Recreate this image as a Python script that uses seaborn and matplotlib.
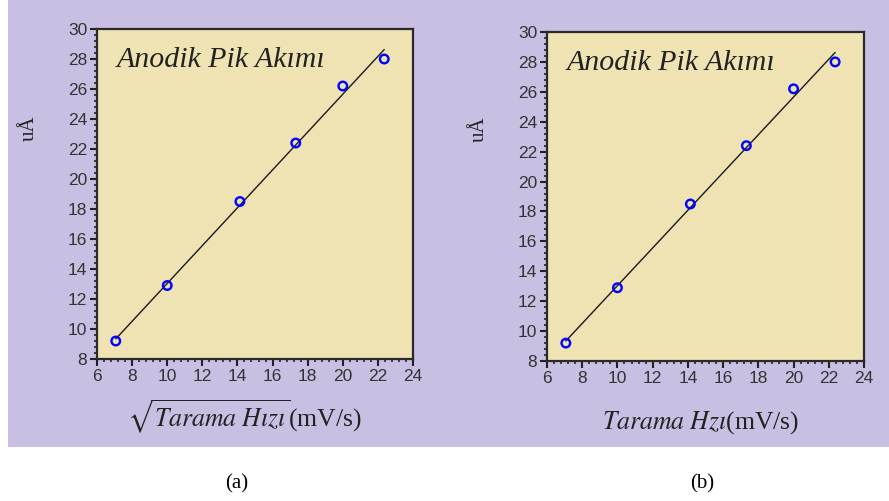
import numpy as np
import pandas as pd
import seaborn as sns
import matplotlib.pyplot as plt
from matplotlib.patches import Rectangle
from matplotlib.ticker import MultipleLocator, AutoMinorLocator

# Dados
tarama_hizi = [7.07, 10.0, 14.14, 17.32, 20.0, 22.36]
akim = [9.2, 12.9, 18.5, 22.4, 26.2, 28.0]
x_etiketleri = [r"$\sqrt{\mathit{Tarama\ Hızı}}$(mV/s)", r"$\mathit{Tarama\ Hzı}$(mV/s)"]
panel_adlari = ["(a)", "(b)"]
baslik = "Anodik Pik Akımı"
y_etiketi = "uÅ"

df = pd.DataFrame({"x": tarama_hizi, "y": akim})

sns.set_style("ticks")
plt.rcParams["font.family"] = ["Liberation Sans", "DejaVu Sans"]
plt.rcParams["mathtext.fontset"] = "stix"

lavanta = "#c8bfe3"
bej = "#efe2b3"

fig = plt.figure(figsize=(8.89, 5.01), dpi=100)
fig.patch.set_facecolor("white")
fundo = Rectangle((8 / 889, 1 - 447 / 501), 1, 447 / 501,
                  transform=fig.transFigure, facecolor=lavanta,
                  edgecolor="none", zorder=-10)
fig.add_artist(fundo)

konumlar = [[0.1091, 0.2834, 0.3555, 0.6587], [0.6153, 0.2794, 0.3566, 0.6567]]
ylab_xy = [(-0.185, 0.70), (-0.185, 0.705)]
xlab_xy = [(0.468, -0.176), (0.486, -0.188)]
harf_x = [237 / 889, 702 / 889]

#==============================================================================

for i in range(2):
    ax = fig.add_axes(konumlar[i])
    ax.set_facecolor(bej)

    # Regressão linear
    sns.regplot(data=df, x="x", y="y", ax=ax, scatter=False, ci=None,
                truncate=True, color="#1a1a1a", line_kws={"lw": 1.0})
    sns.scatterplot(data=df, x="x", y="y", ax=ax, s=38, marker="o",
                    facecolor="none", edgecolor="#0000ff", linewidth=1.7, zorder=5)

    ax.set_xlim(6, 24)
    ax.set_ylim(8, 30)
    ax.xaxis.set_major_locator(MultipleLocator(2))
    ax.yaxis.set_major_locator(MultipleLocator(2))
    ax.xaxis.set_minor_locator(AutoMinorLocator(5))
    ax.yaxis.set_minor_locator(AutoMinorLocator(5))
    ax.tick_params(which="major", direction="out", length=5, width=1.5,
                   color="#222222", labelsize=12.5, labelcolor="#333333", pad=2)
    ax.tick_params(which="minor", direction="out", length=2.5, width=1.2,
                   color="#222222")
    for s in ax.spines.values():
        s.set_visible(True)
        s.set_linewidth(1.6)
        s.set_color("#2a2a2a")

    ax.set_ylabel(y_etiketi, family="Liberation Serif", fontsize=15, color="#222222")
    ax.yaxis.set_label_coords(*ylab_xy[i])
    ax.set_xlabel(x_etiketleri[i], family="Liberation Serif", fontsize=18.5,
                  color="#222222", va="center")
    ax.xaxis.set_label_coords(*xlab_xy[i])

    ax.text(0.063, 0.905, baslik, transform=ax.transAxes, family="Liberation Serif",
            style="italic", fontsize=21.5, color="#222222", va="center", ha="left")

    fig.text(harf_x[i], 1 - 484 / 501, panel_adlari[i], family="Liberation Serif",
             fontsize=15, ha="center", va="center", color="black")

plt.savefig("out.png", dpi=100, facecolor=fig.get_facecolor())
